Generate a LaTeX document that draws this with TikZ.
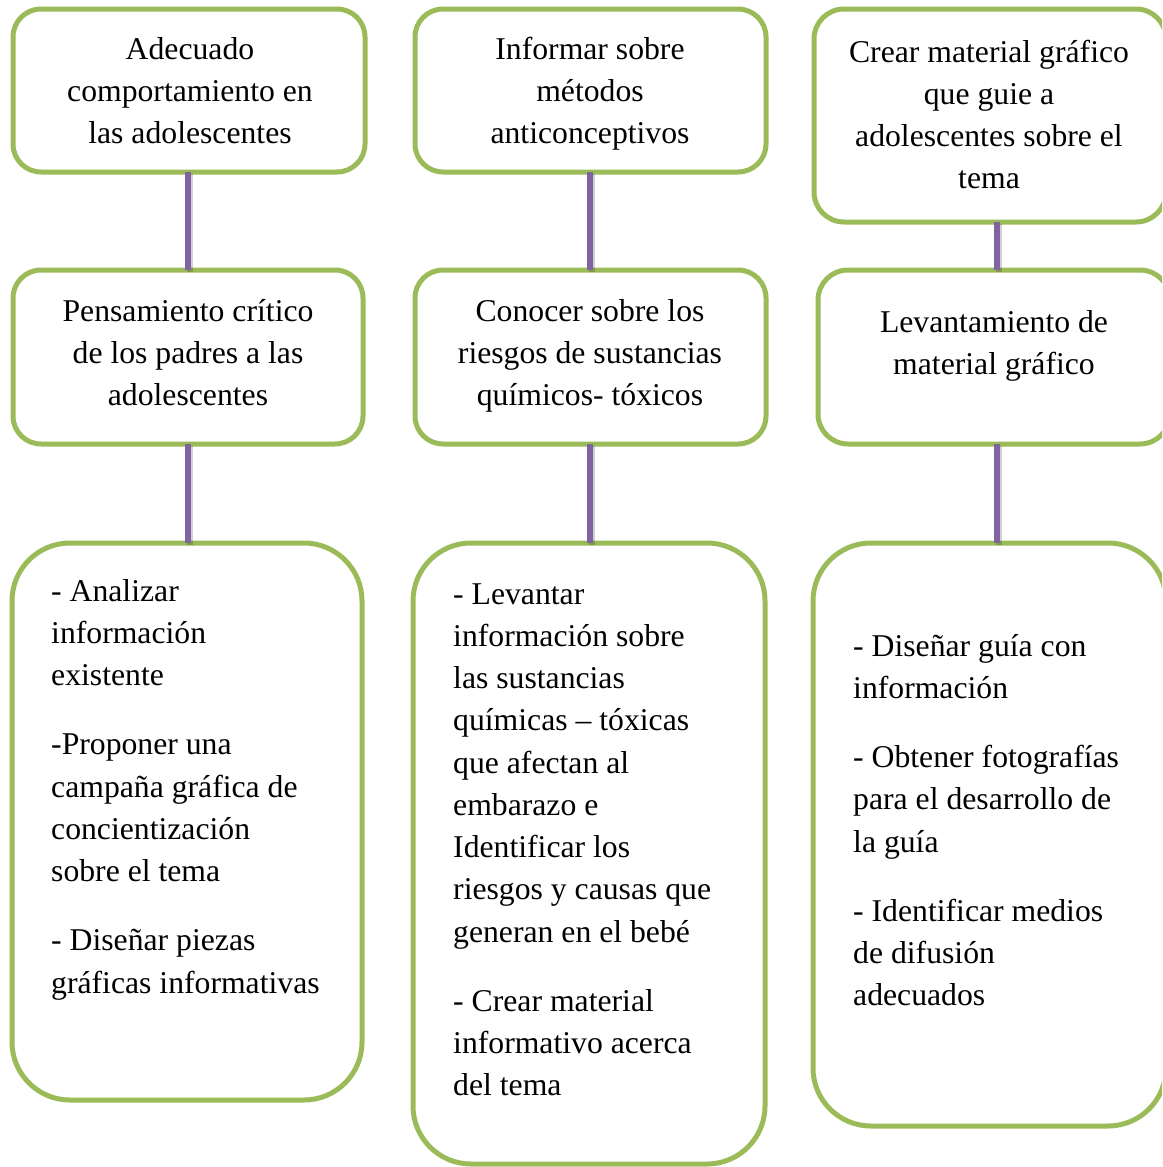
\documentclass[tikz,border=0pt]{standalone}
\usepackage{fontspec}
\setmainfont{Liberation Serif}
\definecolor{boxgreen}{HTML}{9BBB59}
\definecolor{linkpurple}{HTML}{8064A2}
\newcommand\ctxt[1]{\parbox[t]{420pt}{\centering\fontsize{31.7pt}{42.25pt}\selectfont #1}}
\newcommand\ltxt[1]{\parbox[t]{420pt}{\raggedright\fontsize{31.7pt}{42.25pt}\selectfont #1}}
\begin{document}
\begin{tikzpicture}[x=1pt,y=-1pt,
  gbox/.style={draw=boxgreen, line width=5pt, fill=white, rounded corners=#1,
    inner sep=0pt, outer sep=0pt},
  link/.style={draw=linkpurple, line width=6pt},
  linkshadow/.style={draw=black, opacity=0.18, line width=6pt},
  ctext/.style={anchor=base, inner sep=0pt, text=black},
  ltext/.style={anchor=base west, inner sep=0pt, text=black}]
\path[use as bounding box] (0,0) rectangle (1162,1167);
\clip (0,0) rectangle (1162,1167);

% connector columns
\coordinate (ax) at (188,0);
\coordinate (bx) at (590,0);
\coordinate (cx) at (997,0);

% boxes (nodes without text)
\node[gbox=28pt, minimum width=352pt, minimum height=163pt] (a1) at (189,90.5) {};
\node[gbox=28pt, minimum width=350pt, minimum height=174pt] (a2) at (188,357) {};
\node[gbox=58pt, minimum width=350pt, minimum height=557pt] (a3) at (187,821.5) {};
\node[gbox=28pt, minimum width=351pt, minimum height=163pt] (b1) at (590.5,90.5) {};
\node[gbox=28pt, minimum width=351pt, minimum height=174pt] (b2) at (590.5,357) {};
\node[gbox=58pt, minimum width=352pt, minimum height=621pt] (b3) at (589,853.5) {};
\node[gbox=30pt, minimum width=352pt, minimum height=213pt] (c1) at (990,115.5) {};
\node[gbox=30pt, minimum width=352pt, minimum height=174pt] (c2) at (994,357) {};
\node[gbox=58pt, minimum width=353pt, minimum height=583pt] (c3) at (989.5,834.5) {};

% connector shadows
\begin{scope}[transform canvas={shift={(1.5pt,-1.5pt)}}]
\path[linkshadow] (a1.south -| ax) -- (a2.north -| ax);
\path[linkshadow] (a2.south -| ax) -- (a3.north -| ax);
\path[linkshadow] (b1.south -| bx) -- (b2.north -| bx);
\path[linkshadow] (b2.south -| bx) -- (b3.north -| bx);
\path[linkshadow] (c1.south -| cx) -- (c2.north -| cx);
\path[linkshadow] (c2.south -| cx) -- (c3.north -| cx);
\end{scope}
% connectors
\path[link] (a1.south -| ax) -- (a2.north -| ax);
\path[link] (a2.south -| ax) -- (a3.north -| ax);
\path[link] (b1.south -| bx) -- (b2.north -| bx);
\path[link] (b2.south -| bx) -- (b3.north -| bx);
\path[link] (c1.south -| cx) -- (c2.north -| cx);
\path[link] (c2.south -| cx) -- (c3.north -| cx);

% texts
\node[ctext] (ta1) at (190,59) {\ctxt{Adecuado\\comportamiento en\\las adolescentes}};
\node[ctext] (ta2) at (188,321) {\ctxt{Pensamiento crítico\\de los padres a las\\adolescentes}};
\node[ltext] (ta3) at (51,601) {\ltxt{- Analizar\\información\\existente\\[27pt]-Proponer una\\campaña gráfica de\\concientización\\sobre el tema\\[27pt]- Diseñar piezas\\gráficas informativas}};
\node[ctext] (tb1) at (590,59) {\ctxt{Informar sobre\\métodos\\anticonceptivos}};
\node[ctext] (tb2) at (590,321) {\ctxt{Conocer sobre los\\riesgos de sustancias\\químicos- tóxicos}};
\node[ltext] (tb3) at (453,604) {\ltxt{- Levantar\\información sobre\\las sustancias\\químicas – tóxicas\\que afectan al\\embarazo e\\Identificar los\\riesgos y causas que\\generan en el bebé\\[27pt]- Crear material\\informativo acerca\\del tema}};
\node[ctext] (tc1) at (989,62) {\ctxt{Crear material gráfico\\que guie a\\adolescentes sobre el\\tema}};
\node[ctext] (tc2) at (994,332) {\ctxt{Levantamiento de\\material gráfico}};
\node[ltext] (tc3) at (853,656) {\ltxt{- Diseñar guía con\\información\\[27pt]- Obtener fotografías\\para el desarrollo de\\la guía\\[27pt]- Identificar medios\\de difusión\\adecuados}};
\end{tikzpicture}
\end{document}
